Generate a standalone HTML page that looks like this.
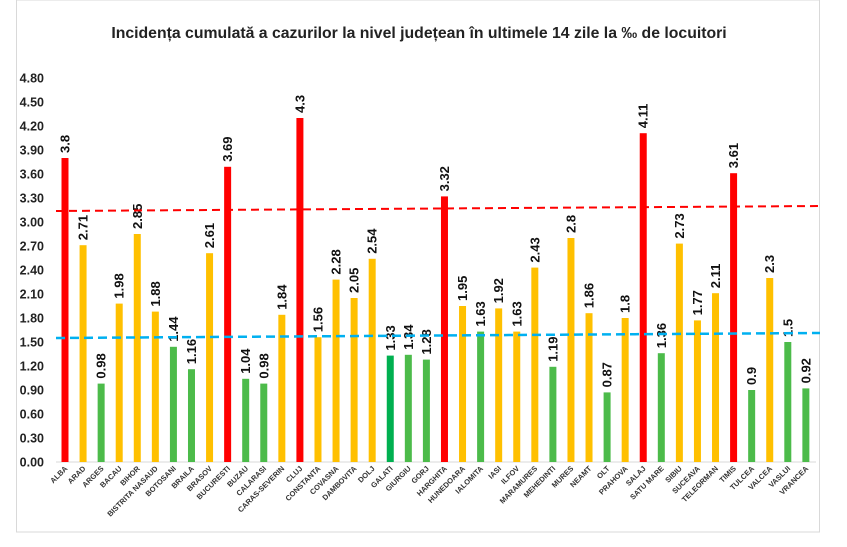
<!DOCTYPE html>
<html><head><meta charset="utf-8"><style>
html,body{margin:0;padding:0;background:#fff}
svg{display:block;font-family:"Liberation Sans",sans-serif}
.r{fill:#ff0000}.o{fill:#ffc000}.g{fill:#4cbb4a}.G{fill:#00b050}
.v{font-size:13px;fill:#111;font-weight:bold}
.c{font-size:7.5px;font-weight:bold;fill:#333;text-anchor:end}
.yt{font-size:12.5px;font-weight:bold;fill:#222;text-anchor:end}
</style></head><body>
<svg width="847" height="547" viewBox="0 0 847 547" xmlns="http://www.w3.org/2000/svg">
<rect x="0" y="0" width="847" height="547" fill="#fff"/>
<rect x="16.5" y="0" width="803" height="532" fill="none" stroke="#d9d9d9" stroke-width="1"/>
<text x="419" y="38" text-anchor="middle" font-size="15.8" font-weight="bold" fill="#222">Incidența cumulată a cazurilor la nivel județean în ultimele 14 zile la ‰ de locuitori</text>
<g class="yt">
<text x="44" y="466.5">0.00</text><text x="44" y="442.5">0.30</text><text x="44" y="418.5">0.60</text><text x="44" y="394.5">0.90</text>
<text x="44" y="370.5">1.20</text><text x="44" y="346.5">1.50</text><text x="44" y="322.5">1.80</text><text x="44" y="298.5">2.10</text>
<text x="44" y="274.5">2.40</text><text x="44" y="250.5">2.70</text><text x="44" y="226.5">3.00</text><text x="44" y="202.5">3.30</text>
<text x="44" y="178.5">3.60</text><text x="44" y="154.5">3.90</text><text x="44" y="130.5">4.20</text><text x="44" y="106.5">4.50</text>
<text x="44" y="82.5">4.80</text>
</g>
<line x1="56" y1="462" x2="816" y2="462" stroke="#d9d9d9" stroke-width="1"/>
<g transform="translate(65,0)"><rect x="-3.5" y="158" width="7" height="304" class="r"/><text class="v" transform="translate(4.5,153) rotate(-90)">3.8</text><text class="c" transform="translate(3,469) rotate(-45)">ALBA</text></g>
<g transform="translate(83.07,0)"><rect x="-3.5" y="245.2" width="7" height="216.8" class="o"/><text class="v" transform="translate(4.5,240.2) rotate(-90)">2.71</text><text class="c" transform="translate(3,469) rotate(-45)">ARAD</text></g>
<g transform="translate(101.14,0)"><rect x="-3.5" y="383.6" width="7" height="78.4" class="g"/><text class="v" transform="translate(4.5,378.6) rotate(-90)">0.98</text><text class="c" transform="translate(3,469) rotate(-45)">ARGES</text></g>
<g transform="translate(119.21,0)"><rect x="-3.5" y="303.6" width="7" height="158.4" class="o"/><text class="v" transform="translate(4.5,298.6) rotate(-90)">1.98</text><text class="c" transform="translate(3,469) rotate(-45)">BACAU</text></g>
<g transform="translate(137.28,0)"><rect x="-3.5" y="234" width="7" height="228" class="o"/><text class="v" transform="translate(4.5,229) rotate(-90)">2.85</text><text class="c" transform="translate(3,469) rotate(-45)">BIHOR</text></g>
<g transform="translate(155.35,0)"><rect x="-3.5" y="311.6" width="7" height="150.4" class="o"/><text class="v" transform="translate(4.5,306.6) rotate(-90)">1.88</text><text class="c" transform="translate(3,469) rotate(-45)">BISTRITA NASAUD</text></g>
<g transform="translate(173.42,0)"><rect x="-3.5" y="346.8" width="7" height="115.2" class="g"/><text class="v" transform="translate(4.5,341.8) rotate(-90)">1.44</text><text class="c" transform="translate(3,469) rotate(-45)">BOTOSANI</text></g>
<g transform="translate(191.49,0)"><rect x="-3.5" y="369.2" width="7" height="92.8" class="g"/><text class="v" transform="translate(4.5,364.2) rotate(-90)">1.16</text><text class="c" transform="translate(3,469) rotate(-45)">BRAILA</text></g>
<g transform="translate(209.56,0)"><rect x="-3.5" y="253.2" width="7" height="208.8" class="o"/><text class="v" transform="translate(4.5,248.2) rotate(-90)">2.61</text><text class="c" transform="translate(3,469) rotate(-45)">BRASOV</text></g>
<g transform="translate(227.63,0)"><rect x="-3.5" y="166.8" width="7" height="295.2" class="r"/><text class="v" transform="translate(4.5,161.8) rotate(-90)">3.69</text><text class="c" transform="translate(3,469) rotate(-45)">BUCURESTI</text></g>
<g transform="translate(245.7,0)"><rect x="-3.5" y="378.8" width="7" height="83.2" class="g"/><text class="v" transform="translate(4.5,373.8) rotate(-90)">1.04</text><text class="c" transform="translate(3,469) rotate(-45)">BUZAU</text></g>
<g transform="translate(263.77,0)"><rect x="-3.5" y="383.6" width="7" height="78.4" class="g"/><text class="v" transform="translate(4.5,378.6) rotate(-90)">0.98</text><text class="c" transform="translate(3,469) rotate(-45)">CALARASI</text></g>
<g transform="translate(281.84,0)"><rect x="-3.5" y="314.8" width="7" height="147.2" class="o"/><text class="v" transform="translate(4.5,309.8) rotate(-90)">1.84</text><text class="c" transform="translate(3,469) rotate(-45)">CARAS-SEVERIN</text></g>
<g transform="translate(299.91,0)"><rect x="-3.5" y="118" width="7" height="344" class="r"/><text class="v" transform="translate(4.5,113) rotate(-90)">4.3</text><text class="c" transform="translate(3,469) rotate(-45)">CLUJ</text></g>
<g transform="translate(317.98,0)"><rect x="-3.5" y="337.2" width="7" height="124.8" class="o"/><text class="v" transform="translate(4.5,332.2) rotate(-90)">1.56</text><text class="c" transform="translate(3,469) rotate(-45)">CONSTANTA</text></g>
<g transform="translate(336.05,0)"><rect x="-3.5" y="279.6" width="7" height="182.4" class="o"/><text class="v" transform="translate(4.5,274.6) rotate(-90)">2.28</text><text class="c" transform="translate(3,469) rotate(-45)">COVASNA</text></g>
<g transform="translate(354.12,0)"><rect x="-3.5" y="298" width="7" height="164" class="o"/><text class="v" transform="translate(4.5,293) rotate(-90)">2.05</text><text class="c" transform="translate(3,469) rotate(-45)">DAMBOVITA</text></g>
<g transform="translate(372.19,0)"><rect x="-3.5" y="258.8" width="7" height="203.2" class="o"/><text class="v" transform="translate(4.5,253.8) rotate(-90)">2.54</text><text class="c" transform="translate(3,469) rotate(-45)">DOLJ</text></g>
<g transform="translate(390.26,0)"><rect x="-3.5" y="355.6" width="7" height="106.4" class="G"/><text class="v" transform="translate(4.5,350.6) rotate(-90)">1.33</text><text class="c" transform="translate(3,469) rotate(-45)">GALATI</text></g>
<g transform="translate(408.33,0)"><rect x="-3.5" y="354.8" width="7" height="107.2" class="g"/><text class="v" transform="translate(4.5,349.8) rotate(-90)">1.34</text><text class="c" transform="translate(3,469) rotate(-45)">GIURGIU</text></g>
<g transform="translate(426.4,0)"><rect x="-3.5" y="359.6" width="7" height="102.4" class="g"/><text class="v" transform="translate(4.5,354.6) rotate(-90)">1.28</text><text class="c" transform="translate(3,469) rotate(-45)">GORJ</text></g>
<g transform="translate(444.47,0)"><rect x="-3.5" y="196.4" width="7" height="265.6" class="r"/><text class="v" transform="translate(4.5,191.4) rotate(-90)">3.32</text><text class="c" transform="translate(3,469) rotate(-45)">HARGHITA</text></g>
<g transform="translate(462.54,0)"><rect x="-3.5" y="306" width="7" height="156" class="o"/><text class="v" transform="translate(4.5,301) rotate(-90)">1.95</text><text class="c" transform="translate(3,469) rotate(-45)">HUNEDOARA</text></g>
<g transform="translate(480.61,0)"><rect x="-3.5" y="331.6" width="7" height="130.4" class="g"/><text class="v" transform="translate(4.5,326.6) rotate(-90)">1.63</text><text class="c" transform="translate(3,469) rotate(-45)">IALOMITA</text></g>
<g transform="translate(498.68,0)"><rect x="-3.5" y="308.4" width="7" height="153.6" class="o"/><text class="v" transform="translate(4.5,303.4) rotate(-90)">1.92</text><text class="c" transform="translate(3,469) rotate(-45)">IASI</text></g>
<g transform="translate(516.75,0)"><rect x="-3.5" y="331.6" width="7" height="130.4" class="o"/><text class="v" transform="translate(4.5,326.6) rotate(-90)">1.63</text><text class="c" transform="translate(3,469) rotate(-45)">ILFOV</text></g>
<g transform="translate(534.82,0)"><rect x="-3.5" y="267.6" width="7" height="194.4" class="o"/><text class="v" transform="translate(4.5,262.6) rotate(-90)">2.43</text><text class="c" transform="translate(3,469) rotate(-45)">MARAMURES</text></g>
<g transform="translate(552.89,0)"><rect x="-3.5" y="366.8" width="7" height="95.2" class="g"/><text class="v" transform="translate(4.5,361.8) rotate(-90)">1.19</text><text class="c" transform="translate(3,469) rotate(-45)">MEHEDINTI</text></g>
<g transform="translate(570.96,0)"><rect x="-3.5" y="238" width="7" height="224" class="o"/><text class="v" transform="translate(4.5,233) rotate(-90)">2.8</text><text class="c" transform="translate(3,469) rotate(-45)">MURES</text></g>
<g transform="translate(589.03,0)"><rect x="-3.5" y="313.2" width="7" height="148.8" class="o"/><text class="v" transform="translate(4.5,308.2) rotate(-90)">1.86</text><text class="c" transform="translate(3,469) rotate(-45)">NEAMT</text></g>
<g transform="translate(607.1,0)"><rect x="-3.5" y="392.4" width="7" height="69.6" class="g"/><text class="v" transform="translate(4.5,387.4) rotate(-90)">0.87</text><text class="c" transform="translate(3,469) rotate(-45)">OLT</text></g>
<g transform="translate(625.17,0)"><rect x="-3.5" y="318" width="7" height="144" class="o"/><text class="v" transform="translate(4.5,313) rotate(-90)">1.8</text><text class="c" transform="translate(3,469) rotate(-45)">PRAHOVA</text></g>
<g transform="translate(643.24,0)"><rect x="-3.5" y="133.2" width="7" height="328.8" class="r"/><text class="v" transform="translate(4.5,128.2) rotate(-90)">4.11</text><text class="c" transform="translate(3,469) rotate(-45)">SALAJ</text></g>
<g transform="translate(661.31,0)"><rect x="-3.5" y="353.2" width="7" height="108.8" class="g"/><text class="v" transform="translate(4.5,348.2) rotate(-90)">1.36</text><text class="c" transform="translate(3,469) rotate(-45)">SATU MARE</text></g>
<g transform="translate(679.38,0)"><rect x="-3.5" y="243.6" width="7" height="218.4" class="o"/><text class="v" transform="translate(4.5,238.6) rotate(-90)">2.73</text><text class="c" transform="translate(3,469) rotate(-45)">SIBIU</text></g>
<g transform="translate(697.45,0)"><rect x="-3.5" y="320.4" width="7" height="141.6" class="o"/><text class="v" transform="translate(4.5,315.4) rotate(-90)">1.77</text><text class="c" transform="translate(3,469) rotate(-45)">SUCEAVA</text></g>
<g transform="translate(715.52,0)"><rect x="-3.5" y="293.2" width="7" height="168.8" class="o"/><text class="v" transform="translate(4.5,288.2) rotate(-90)">2.11</text><text class="c" transform="translate(3,469) rotate(-45)">TELEORMAN</text></g>
<g transform="translate(733.59,0)"><rect x="-3.5" y="173.2" width="7" height="288.8" class="r"/><text class="v" transform="translate(4.5,168.2) rotate(-90)">3.61</text><text class="c" transform="translate(3,469) rotate(-45)">TIMIS</text></g>
<g transform="translate(751.66,0)"><rect x="-3.5" y="390" width="7" height="72" class="g"/><text class="v" transform="translate(4.5,385) rotate(-90)">0.9</text><text class="c" transform="translate(3,469) rotate(-45)">TULCEA</text></g>
<g transform="translate(769.73,0)"><rect x="-3.5" y="278" width="7" height="184" class="o"/><text class="v" transform="translate(4.5,273) rotate(-90)">2.3</text><text class="c" transform="translate(3,469) rotate(-45)">VALCEA</text></g>
<g transform="translate(787.8,0)"><rect x="-3.5" y="342" width="7" height="120" class="g"/><text class="v" transform="translate(4.5,337) rotate(-90)">1.5</text><text class="c" transform="translate(3,469) rotate(-45)">VASLUI</text></g>
<g transform="translate(805.87,0)"><rect x="-3.5" y="388.4" width="7" height="73.6" class="g"/><text class="v" transform="translate(4.5,383.4) rotate(-90)">0.92</text><text class="c" transform="translate(3,469) rotate(-45)">VRANCEA</text></g>
<line x1="56" y1="211" x2="820" y2="206" stroke="#ff0000" stroke-width="2" stroke-dasharray="8,5"/>
<line x1="56" y1="338" x2="820" y2="333" stroke="#00b0f0" stroke-width="2.5" stroke-dasharray="9,5"/>
</svg>
</body></html>
